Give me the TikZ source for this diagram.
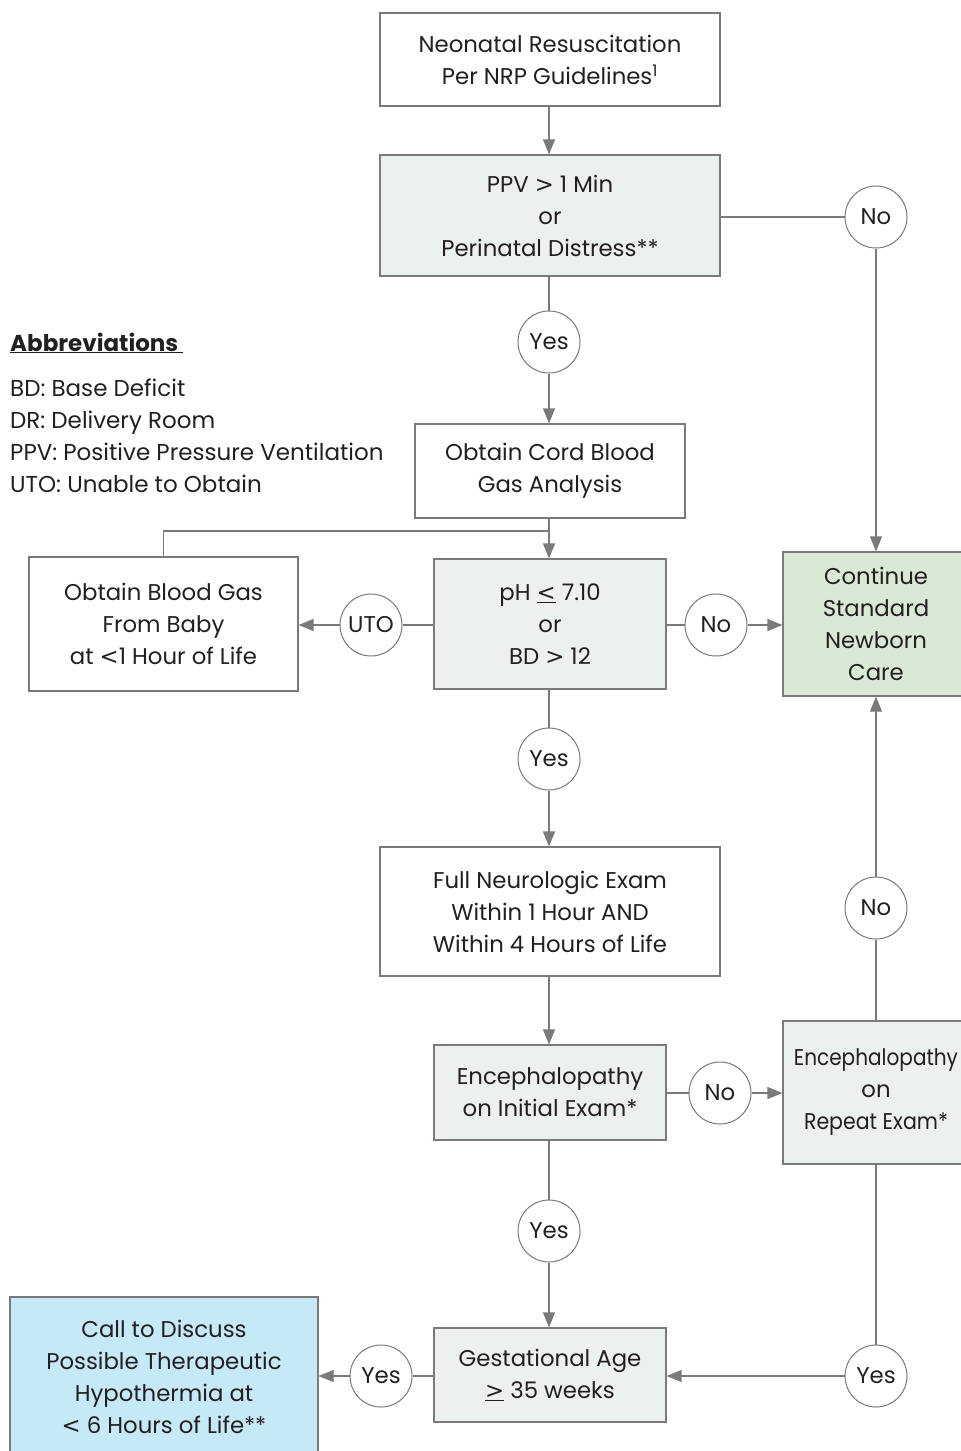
\documentclass[tikz,border=0pt]{standalone}
\usepackage{fontspec}
\setmainfont{Poppins}
\newfontfamily\symf{DejaVu Sans}
\newcommand{\lsym}{{\symf<}}
\newcommand{\gsym}{{\symf>}}
\usetikzlibrary{arrows.meta}
\definecolor{ln}{HTML}{7A7A7C}
\definecolor{txt}{HTML}{231F20}
\definecolor{grayfill}{HTML}{EDF0F1}
\definecolor{greenfill}{HTML}{D9E9D3}
\definecolor{bluefill}{HTML}{C6E9F8}
\tikzset{
  box/.style={draw=ln, line width=1.2pt, rectangle, align=center, text=txt, inner sep=0pt,
     font=\fontsize{22.8}{32}\selectfont},
  dec/.style={box, fill=grayfill},
  circ/.style={draw=ln, line width=1pt, circle, fill=white, minimum size=62pt, inner sep=0pt,
     text=txt, font=\fontsize{22.8}{26}\selectfont},
  conn/.style={draw=ln, line width=1.2pt},
  arr/.style={conn, -{Triangle[length=15pt,width=12pt]}},
  abbr/.style={anchor=base west, text=txt, inner sep=0pt, font=\fontsize{23}{26}\selectfont}
}
\begin{document}
\begin{tikzpicture}[x=1pt,y=-1pt]
\useasboundingbox (0,0) rectangle (961,1451);
% boxes
\node[box, minimum width=340pt, minimum height=93pt] (nrp) at (550,59.5) {Neonatal Resuscitation\\Per NRP Guidelines\textsuperscript{1}};
\node[dec, minimum width=340pt, minimum height=121pt] (ppv) at (550,215.5) {PPV \gsym{} 1 Min\\or\\Perinatal Distress**};
\node[box, minimum width=270pt, minimum height=94pt] (cord) at (550,471) {Obtain Cord Blood\\Gas Analysis};
\node[dec, minimum width=232pt, minimum height=130pt] (ph) at (550,624) {pH \underline{\lsym} 7.10\\or\\BD \gsym{} 12};
\node[box, minimum width=269pt, minimum height=134pt] (baby) at (163.5,624) {Obtain Blood Gas\\From Baby\\at \lsym1 Hour of Life};
\node[box, fill=greenfill, minimum width=186pt, minimum height=144pt] (care) at (876,624) {Continue\\Standard\\Newborn\\Care};
\node[box, minimum width=340pt, minimum height=129pt] (neuro) at (550,911.5) {Full Neurologic Exam\\Within 1 Hour AND\\Within 4 Hours of Life};
\node[dec, minimum width=232pt, minimum height=95pt] (enc) at (550,1092.5) {Encephalopathy\\on Initial Exam*};
\node[dec, minimum width=186pt, minimum height=143pt] (rep) at (876,1092.5) {\scalebox{0.88}[1]{Encephalopathy}\\on\\\scalebox{0.9}[1]{Repeat Exam*}};
\node[dec, minimum width=232pt, minimum height=94pt] (ga) at (550,1375) {Gestational Age\\\underline{\gsym} 35 weeks};
\node[box, fill=bluefill, minimum width=308pt, minimum height=160pt] (call) at (164,1377) {Call to Discuss\\Possible Therapeutic\\Hypothermia at\\\lsym{} 6 Hours of Life**};
% circles
\node[circ] (no1) at (876,217) {No};
\node[circ] (yes1) at (549,342) {Yes};
\node[circ] (uto) at (371,625) {UTO};
\node[circ] (no2) at (716,625) {No};
\node[circ] (yes2) at (549,759) {Yes};
\node[circ] (no3) at (876,908) {No};
\node[circ] (no4) at (720,1093) {No};
\node[circ] (yes3) at (549,1231) {Yes};
\node[circ] (yes4) at (876,1376) {Yes};
\node[circ] (yes5) at (381,1376) {Yes};
\coordinate (br) at (549,531);
% connectors
\draw[arr] (nrp.south -| 549,0) -- (ppv.north -| 549,0);
\draw[conn] (ppv.east |- no1) -- (no1);
\draw[arr] (no1) -- (care.north -| no1);
\draw[conn] (ppv.south -| yes1) -- (yes1);
\draw[arr] (yes1) -- (cord.north -| yes1);
\draw[arr] (cord.south -| br) -- (ph.north -| br);
\draw[conn] (br) -| (baby.north);
\draw[conn] (ph.west |- uto) -- (uto);
\draw[arr] (uto) -- (baby.east |- uto);
\draw[conn] (ph.east |- no2) -- (no2);
\draw[arr] (no2) -- (care.west |- no2);
\draw[conn] (ph.south -| yes2) -- (yes2);
\draw[arr] (yes2) -- (neuro.north -| yes2);
\draw[arr] (neuro.south -| yes2) -- (enc.north -| yes2);
\draw[conn] (enc.east |- no4) -- (no4);
\draw[arr] (no4) -- (rep.west |- no4);
\draw[conn] (rep.north -| no3) -- (no3);
\draw[arr] (no3) -- (care.south -| no3);
\draw[conn] (enc.south -| yes3) -- (yes3);
\draw[arr] (yes3) -- (ga.north -| yes3);
\draw[conn] (rep.south -| yes4) -- (yes4);
\draw[arr] (yes4) -- (ga.east |- yes4);
\draw[conn] (ga.west |- yes5) -- (yes5);
\draw[arr] (yes5) -- (call.east |- yes5);
% abbreviations
\node[abbr] (abh) at (10,351) {\bfseries\underline{Abbreviations\ }};
\node[abbr] (a1) at (10,396) {BD: Base Deficit};
\node[abbr] (a2) at (10,428) {DR: Delivery Room};
\node[abbr] (a3) at (10,460) {PPV: Positive Pressure Ventilation};
\node[abbr] (a4) at (10,492) {UTO: Unable to Obtain};
\end{tikzpicture}
\end{document}
